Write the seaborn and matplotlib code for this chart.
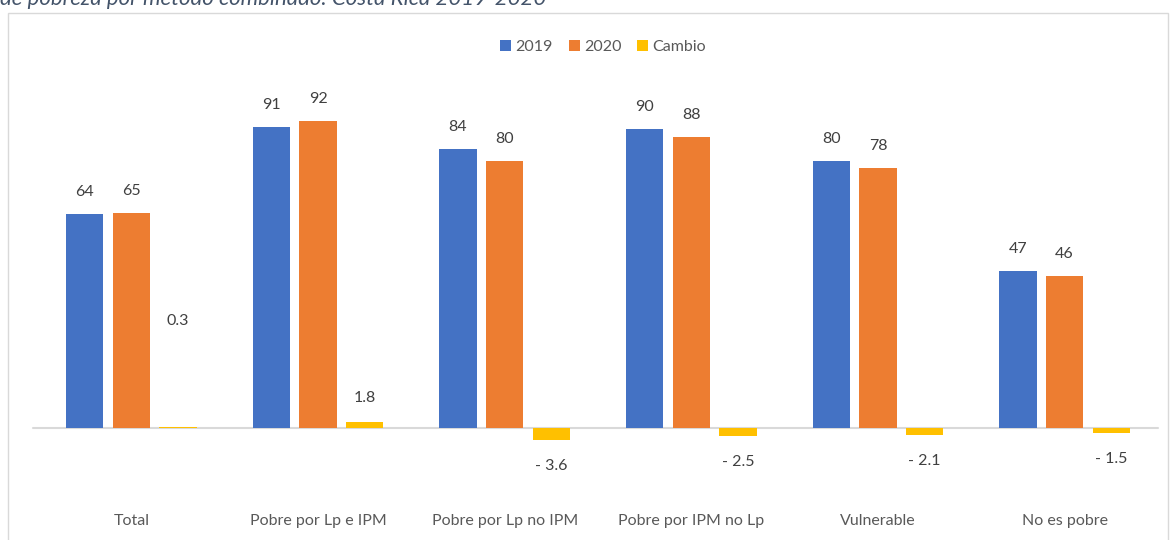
import matplotlib.pyplot as plt
import matplotlib.patches as patches
import pandas as pd
import seaborn as sns

# Datos
categorias = ['Total', 'Pobre por Lp e IPM', 'Pobre por Lp no IPM',
              'Pobre por IPM no Lp', 'Vulnerable', 'No es pobre']
valores_2019 = [64.4, 90.6, 83.9, 90.2, 80.4, 47.3]
valores_2020 = [64.7, 92.4, 80.3, 87.7, 78.3, 45.8]
cambio = [0.3, 1.8, -3.6, -2.5, -2.1, -1.5]
series = ['2019', '2020', 'Cambio']

colores = ['#4472C4', '#ED7D31', '#FFC000']
texto = '#404040'

df = pd.DataFrame({
    'categoria': categorias * 3,
    'serie': [s for s in series for _ in categorias],
    'valor': valores_2019 + valores_2020 + cambio,
})

sns.set_style('white')
plt.rcParams['font.family'] = ['Lato', 'DejaVu Sans']

fig = plt.figure(figsize=(11.72, 5.4), dpi=100)
ax = fig.add_axes([38 / 1172, 70 / 540, 1120 / 1172, 410 / 540])

sns.barplot(data=df, x='categoria', y='valor', hue='serie', palette=colores,
            width=0.75, gap=0.2, saturation=1, linewidth=0, errorbar=None, ax=ax)

ax.set_ylim(-42 / 3.32, 368 / 3.32)
ax.axhline(0, xmin=-5 / 1120, color='#d9d9d9', lw=1.5, zorder=0, clip_on=False)

# etiquetas de datos
for i, cont in enumerate(ax.containers):
    for j, bar in enumerate(cont):
        h = bar.get_height()
        xc = bar.get_x() + bar.get_width() / 2
        if i < 2:
            ax.annotate(f'{h:.0f}', (xc, h), xytext=(0, 22), textcoords='offset pixels',
                        ha='center', va='center', fontsize=11.5, color=texto)
        else:
            if h >= 0:
                dy = 106 if j == 0 else 24
                lab = f'{h:.1f}'
            else:
                dy = -26
                lab = f'- {abs(h):.1f}'
            ax.annotate(lab, (xc, h), xytext=(0, dy),
                        textcoords='offset pixels', ha='center', va='center',
                        fontsize=11.5, color=texto)

ax.set_xlabel('')
ax.set_ylabel('')
ax.set_yticks([])
ax.tick_params(axis='x', length=0, pad=32, labelsize=11.5, labelcolor='#595959')
sns.despine(ax=ax, left=True, bottom=True)

handles, labels = ax.get_legend_handles_labels()
ax.legend(handles, labels, loc='center', bbox_to_anchor=(603 / 1172, 1 - 47 / 540),
          bbox_transform=fig.transFigure, ncol=3, frameon=False, fontsize=11.5,
          handlelength=0.7, handleheight=0.7, handletextpad=0.25, columnspacing=1.0,
          labelcolor='#595959')

# marco del area del grafico
fig.patches.append(patches.Rectangle((8 / 1172, -0.02), 1160 / 1172, 1.02 - 13 / 540,
                                     transform=fig.transFigure, fill=False,
                                     edgecolor='#d9d9d9', lw=1))

# titulo cortado en la parte superior
fig.text(0.0, 1 - 5 / 540, 'de pobreza por método combinado. Costa Rica 2019-2020',
         ha='left', va='baseline', fontsize=16, style='italic', color='#44546A')

fig.savefig('out.png', dpi=100)
